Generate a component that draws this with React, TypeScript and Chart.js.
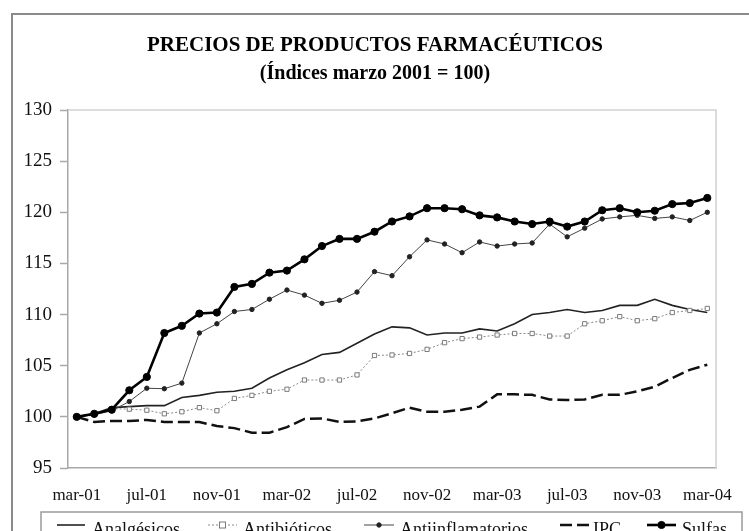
import React, { useEffect, useRef } from "react";
import { Chart, registerables } from "chart.js";

Chart.register(...registerables);

const months = [
  "mar-01","abr-01","may-01","jun-01","jul-01","ago-01","sep-01","oct-01","nov-01","dic-01","ene-02","feb-02",
  "mar-02","abr-02","may-02","jun-02","jul-02","ago-02","sep-02","oct-02","nov-02","dic-02","ene-03","feb-03",
  "mar-03","abr-03","may-03","jun-03","jul-03","ago-03","sep-03","oct-03","nov-03","dic-03","ene-04","feb-04","mar-04",
];

const analgesicos = [
  100.0, 100.3, 100.9, 101.0, 101.1, 101.1, 101.9, 102.1, 102.4, 102.5, 102.8, 103.8,
  104.6, 105.3, 106.1, 106.3, 107.2, 108.1, 108.8, 108.7, 108.0, 108.2, 108.2, 108.6,
  108.4, 109.1, 110.0, 110.2, 110.5, 110.2, 110.4, 110.9, 110.9, 111.5, 110.9, 110.5, 110.2,
];

const antibioticos = [
  100.0, 100.2, 100.8, 100.75, 100.65, 100.3, 100.5, 100.9, 100.6, 101.8, 102.1, 102.5,
  102.7, 103.6, 103.6, 103.6, 104.1, 106.0, 106.05, 106.2, 106.6, 107.25, 107.65, 107.8,
  108.0, 108.15, 108.15, 107.9, 107.9, 109.1, 109.4, 109.8, 109.4, 109.6, 110.2, 110.4, 110.6,
];

const antiinflamatorios = [
  100.0, 100.2, 100.6, 101.5, 102.8, 102.75, 103.3, 108.2, 109.1, 110.3, 110.5, 111.5,
  112.4, 111.9, 111.1, 111.4, 112.2, 114.2, 113.8, 115.65, 117.3, 116.9, 116.05, 117.1,
  116.7, 116.9, 117.0, 118.85, 117.6, 118.45, 119.35, 119.55, 119.7, 119.4, 119.55, 119.2, 120.0,
];

const ipc = [
  100.0, 99.5, 99.6, 99.6, 99.7, 99.5, 99.5, 99.5, 99.1, 98.9, 98.45, 98.45,
  99.0, 99.8, 99.85, 99.5, 99.55, 99.85, 100.35, 100.9, 100.5, 100.5, 100.7, 101.0,
  102.2, 102.2, 102.15, 101.7, 101.65, 101.7, 102.15, 102.15, 102.5, 102.95, 103.8, 104.6, 105.1,
];

const sulfas = [
  100.0, 100.3, 100.7, 102.6, 103.9, 108.2, 108.9, 110.1, 110.2, 112.7, 113.0, 114.1,
  114.3, 115.4, 116.7, 117.4, 117.4, 118.1, 119.1, 119.6, 120.4, 120.4, 120.3, 119.7,
  119.5, 119.1, 118.85, 119.1, 118.6, 119.1, 120.2, 120.4, 120.0, 120.15, 120.8, 120.9, 121.4,
];

const yTicks = [95, 100, 105, 110, 115, 120, 125, 130];

const titleLines = ["PRECIOS DE PRODUCTOS FARMACÉUTICOS", "(Índices marzo 2001 = 100)"];
const seriesNames = ["Analgésicos", "Antibióticos", "Antiinflamatorios", "IPC", "Sulfas"];

const FONT = "'Liberation Serif', 'Times New Roman', serif";

const decorPlugin = {
  id: "decor",
  afterDraw(chart: any) {
    const ctx = chart.ctx as CanvasRenderingContext2D;
    const ca = chart.chartArea;
    ctx.save();
    // outer frame
    ctx.strokeStyle = "#8a8a8a";
    ctx.lineWidth = 2;
    ctx.beginPath();
    ctx.moveTo(12, 540);
    ctx.lineTo(12, 14);
    ctx.lineTo(760, 14);
    ctx.stroke();
    // plot area frame (top and right)
    ctx.strokeStyle = "#d2d2d2";
    ctx.lineWidth = 1.5;
    ctx.beginPath();
    ctx.moveTo(ca.left, ca.top);
    ctx.lineTo(ca.right, ca.top);
    ctx.lineTo(ca.right, ca.bottom);
    ctx.stroke();
    // titles
    ctx.fillStyle = "#000";
    ctx.textAlign = "center";
    ctx.textBaseline = "middle";
    ctx.font = `bold 21px ${FONT}`;
    ctx.fillText(titleLines[0], 375, 46);
    ctx.font = `bold 20px ${FONT}`;
    ctx.fillText(titleLines[1], 375, 74);
    // legend box
    ctx.strokeStyle = "#9a9a9a";
    ctx.lineWidth = 1.5;
    ctx.strokeRect(41, 512, 701, 40);
    const ly = 525;
    const ds = chart.data.datasets;
    const items = [
      { x0: 57, x1: 85, tx: 92 },
      { x0: 208, x1: 237, tx: 243 },
      { x0: 364, x1: 394, tx: 400 },
      { x0: 560, x1: 589, tx: 593 },
      { x0: 647, x1: 676, tx: 682 },
    ];
    items.forEach((it, i) => {
      const d = ds[i];
      ctx.save();
      ctx.strokeStyle = d.borderColor;
      ctx.lineWidth = d.borderWidth;
      ctx.setLineDash(d.borderDash || []);
      ctx.beginPath();
      ctx.moveTo(it.x0, ly);
      ctx.lineTo(it.x1, ly);
      ctx.stroke();
      ctx.setLineDash([]);
      const r = d.pointRadius;
      if (r > 0) {
        const cx = (it.x0 + it.x1) / 2;
        ctx.fillStyle = d.pointBackgroundColor;
        ctx.strokeStyle = d.pointBorderColor;
        ctx.lineWidth = d.pointBorderWidth;
        if (d.pointStyle === "rect") {
          ctx.fillRect(cx - r, ly - r, 2 * r, 2 * r);
          ctx.strokeRect(cx - r, ly - r, 2 * r, 2 * r);
        } else {
          ctx.beginPath();
          ctx.arc(cx, ly, r, 0, Math.PI * 2);
          ctx.fill();
          ctx.stroke();
        }
      }
      ctx.restore();
      ctx.fillStyle = "#111";
      ctx.textAlign = "left";
      ctx.textBaseline = "alphabetic";
      ctx.font = `18px ${FONT}`;
      ctx.fillText(d.label, it.tx, 535);
    });
    ctx.restore();
  },
};

export default function App() {
  const ref = useRef<HTMLCanvasElement | null>(null);

  useEffect(() => {
    document.body.style.margin = "0";
    const canvas = ref.current!;
    const chart = new Chart(canvas, {
      type: "line",
      data: {
        labels: months,
        datasets: [
          {
            label: seriesNames[0],
            data: analgesicos,
            borderColor: "#222",
            borderWidth: 1.6,
            pointRadius: 0,
            pointStyle: "circle",
            pointBackgroundColor: "#222",
            pointBorderColor: "#222",
            pointBorderWidth: 0,
            tension: 0,
            order: 4,
          },
          {
            label: seriesNames[1],
            data: antibioticos,
            borderColor: "#8a8a8a",
            borderWidth: 1,
            borderDash: [2, 2],
            pointRadius: 3,
            pointStyle: "rect",
            pointBackgroundColor: "#fff",
            pointBorderColor: "#7a7a7a",
            pointBorderWidth: 1,
            tension: 0,
            order: 3,
          },
          {
            label: seriesNames[2],
            data: antiinflamatorios,
            borderColor: "#444",
            borderWidth: 1,
            pointRadius: 2.2,
            pointStyle: "circle",
            pointBackgroundColor: "#222",
            pointBorderColor: "#222",
            pointBorderWidth: 1,
            tension: 0,
            order: 2,
          },
          {
            label: seriesNames[3],
            data: ipc,
            borderColor: "#111",
            borderWidth: 2.5,
            borderDash: [12, 5],
            pointRadius: 0,
            pointStyle: "circle",
            pointBackgroundColor: "#111",
            pointBorderColor: "#111",
            pointBorderWidth: 0,
            tension: 0,
            order: 5,
          },
          {
            label: seriesNames[4],
            data: sulfas,
            borderColor: "#000",
            borderWidth: 2.6,
            pointRadius: 3.6,
            pointStyle: "circle",
            pointBackgroundColor: "#000",
            pointBorderColor: "#000",
            pointBorderWidth: 1,
            tension: 0,
            order: 1,
          },
        ] as any,
      },
      options: {
        responsive: false,
        animation: false,
        devicePixelRatio: 1,
        layout: { padding: { left: 12, right: 24, top: 110, bottom: 0 } },
        plugins: {
          legend: { display: false },
          title: { display: false },
          tooltip: { enabled: false },
        },
        scales: {
          x: {
            type: "category",
            offset: true,
            grid: { display: true, drawOnChartArea: false, drawTicks: false },
            border: { display: true, color: "#a8a8a8", width: 1.5 },
            ticks: {
              autoSkip: false,
              maxRotation: 0,
              minRotation: 0,
              padding: 17,
              color: "#111",
              font: { family: FONT, size: 17 },
              callback: (_v: any, i: number) => (i % 4 === 0 ? months[i] : ""),
            },
            afterFit: (s: any) => {
              s.height = 63;
            },
          },
          y: {
            type: "linear",
            min: yTicks[0],
            max: yTicks[yTicks.length - 1],
            afterBuildTicks: (s: any) => {
              s.ticks = yTicks.map((v) => ({ value: v }));
            },
            grid: {
              display: true,
              drawOnChartArea: false,
              drawTicks: true,
              tickLength: 8,
              tickColor: "#a8a8a8",
              tickWidth: 1.5,
            },
            border: { display: true, color: "#a8a8a8", width: 1.5 },
            ticks: {
              padding: 8,
              color: "#111",
              font: { family: FONT, size: 19 },
            },
            afterFit: (s: any) => {
              s.width = 56;
            },
          },
        },
      } as any,
      plugins: [decorPlugin],
    });
    return () => chart.destroy();
  }, []);

  return (
    <canvas
      ref={ref}
      width={749}
      height={531}
      style={{ display: "block", width: "749px", height: "531px" }}
    />
  );
}
